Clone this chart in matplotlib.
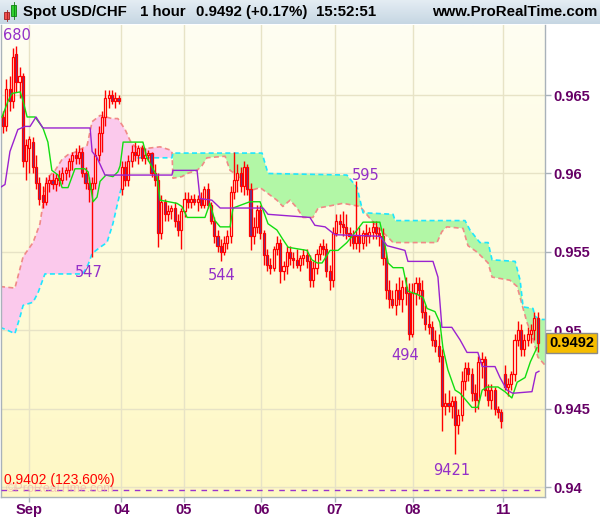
import numpy as np
import matplotlib
matplotlib.use("Agg")
import matplotlib.pyplot as plt
from matplotlib.colors import LinearSegmentedColormap
from matplotlib.patches import Rectangle
from matplotlib.transforms import blended_transform_factory

# hourly USD/CHF candles, prices in pips (9636 -> 0.9636)
opens = [9636, 9630, 9654, 9646, 9676, 9658, 9662, 9608, 9616, 9620, 9604, 9594,
         9586, 9582, 9594, 9596, 9593, 9597, 9596, 9600, 9602, 9608, 9612, 9610,
         9614, 9600, 9594, 9590, 9594, 9612, 9626, 9636, 9648, 9650, 9646, 9648,
         9590, 9604, 9596, 9608, 9614, 9612, 9616, 9610, 9612, 9613, 9600, 9596,
         9562, 9582, 9574, 9576, 9578, 9570, 9564, 9576, 9584, 9582, 9584, 9582,
         9584, 9580, 9590, 9580, 9570, 9560, 9554, 9550, 9556, 9560, 9588, 9596,
         9600, 9592, 9604, 9590, 9560, 9566, 9577, 9562, 9548, 9542, 9540, 9552,
         9556, 9538, 9541, 9550, 9546, 9545, 9542, 9546, 9548, 9544, 9532, 9540,
         9549, 9554, 9552, 9538, 9532, 9562, 9570, 9568, 9566, 9562, 9560, 9556,
         9560, 9556, 9562, 9560, 9563, 9566, 9562, 9560, 9546, 9526, 9520, 9516,
         9526, 9520, 9528, 9524, 9498, 9524, 9530, 9526, 9512, 9504, 9502, 9494,
         9490, 9484, 9452, 9454, 9452, 9455, 9440, 9446, 9468, 9476, 9472, 9460,
         9456, 9480, 9482, 9462, 9456, 9462, 9450, 9448, 9472, 9464, 9466, 9472,
         9494, 9500, 9488, 9494, 9498, 9500, 9508]
highs = [9640, 9660, 9662, 9680, 9681, 9668, 9664, 9622, 9624, 9623, 9612, 9598,
         9592, 9598, 9599, 9600, 9600, 9602, 9604, 9604, 9610, 9614, 9616, 9618,
         9616, 9604, 9598, 9598, 9616, 9630, 9640, 9653, 9653, 9653, 9652, 9650,
         9608, 9608, 9612, 9618, 9620, 9618, 9618, 9616, 9615, 9614, 9606, 9600,
         9586, 9584, 9580, 9580, 9582, 9574, 9578, 9588, 9588, 9586, 9587, 9586,
         9588, 9592, 9594, 9582, 9572, 9564, 9558, 9560, 9564, 9592, 9614, 9606,
         9604, 9608, 9606, 9594, 9572, 9580, 9580, 9564, 9552, 9546, 9554, 9560,
         9558, 9544, 9554, 9554, 9550, 9552, 9548, 9552, 9552, 9548, 9544, 9552,
         9556, 9558, 9556, 9542, 9566, 9574, 9574, 9576, 9574, 9566, 9564, 9595,
         9566, 9564, 9568, 9566, 9570, 9570, 9566, 9565, 9550, 9532, 9526, 9530,
         9534, 9532, 9534, 9530, 9530, 9534, 9534, 9532, 9516, 9510, 9506, 9500,
         9498, 9488, 9460, 9462, 9458, 9458, 9450, 9474, 9480, 9480, 9476, 9466,
         9484, 9486, 9484, 9466, 9466, 9464, 9452, 9450, 9478, 9470, 9474, 9498,
         9506, 9504, 9498, 9502, 9504, 9512, 9512]
lows = [9626, 9627, 9640, 9642, 9652, 9648, 9604, 9596, 9600, 9600, 9590, 9580,
        9578, 9580, 9588, 9590, 9589, 9592, 9593, 9596, 9598, 9602, 9606, 9606,
        9598, 9590, 9582, 9547, 9590, 9608, 9614, 9630, 9642, 9644, 9642, 9644,
        9586, 9592, 9592, 9604, 9608, 9606, 9608, 9606, 9608, 9598, 9592, 9553,
        9558, 9570, 9570, 9571, 9566, 9560, 9552, 9572, 9578, 9578, 9580, 9576,
        9578, 9578, 9578, 9568, 9556, 9550, 9544, 9548, 9552, 9556, 9584, 9588,
        9588, 9586, 9586, 9551, 9555, 9562, 9558, 9542, 9538, 9536, 9538, 9548,
        9530, 9532, 9536, 9542, 9540, 9540, 9538, 9542, 9540, 9528, 9528, 9536,
        9545, 9548, 9534, 9526, 9528, 9560, 9562, 9560, 9558, 9554, 9552, 9552,
        9550, 9552, 9554, 9556, 9558, 9558, 9554, 9542, 9520, 9514, 9514, 9510,
        9516, 9512, 9516, 9494, 9496, 9516, 9520, 9508, 9500, 9498, 9490, 9486,
        9480, 9436, 9446, 9448, 9444, 9421, 9434, 9442, 9462, 9468, 9455, 9448,
        9450, 9470, 9458, 9452, 9450, 9446, 9444, 9438, 9462, 9458, 9462, 9468,
        9490, 9484, 9484, 9490, 9492, 9494, 9486]
closes = [9630, 9654, 9646, 9674, 9658, 9662, 9608, 9618, 9622, 9604, 9594, 9584,
          9582, 9594, 9596, 9593, 9597, 9596, 9600, 9602, 9608, 9612, 9610, 9614,
          9600, 9594, 9590, 9594, 9612, 9626, 9636, 9648, 9650, 9646, 9648, 9646,
          9604, 9596, 9608, 9614, 9612, 9616, 9610, 9612, 9613, 9600, 9596, 9562,
          9582, 9574, 9576, 9578, 9570, 9564, 9576, 9584, 9582, 9584, 9582, 9584,
          9580, 9590, 9580, 9570, 9560, 9554, 9550, 9556, 9560, 9588, 9596, 9600,
          9592, 9604, 9590, 9560, 9566, 9577, 9562, 9548, 9542, 9540, 9552, 9556,
          9538, 9541, 9550, 9546, 9545, 9542, 9546, 9548, 9544, 9532, 9540, 9549,
          9554, 9552, 9538, 9532, 9562, 9570, 9568, 9566, 9562, 9560, 9556, 9560,
          9556, 9562, 9560, 9563, 9566, 9562, 9560, 9546, 9526, 9520, 9516, 9526,
          9520, 9528, 9524, 9498, 9524, 9530, 9526, 9512, 9504, 9502, 9494, 9490,
          9484, 9452, 9454, 9452, 9455, 9440, 9446, 9468, 9476, 9472, 9460, 9456,
          9480, 9482, 9462, 9456, 9462, 9450, 9448, 9442, 9464, 9466, 9472, 9494,
          9500, 9488, 9494, 9498, 9500, 9508, 9492]

# day boundaries (bar index) and labels
day_pos = [7.9, 35.8, 54.8, 78.2, 100.6, 124.2, 151.5]
day_labels = ['Sep', '04', '05', '06', '07', '08', '11']
price_ticks = [0.94, 0.945, 0.95, 0.955, 0.96, 0.965]

# ichimoku lines, vertices as (bar index, pips)
tenkan_x = [-0.3, 1.5, 2.7, 5.2, 6.1, 7.3, 9.7, 12.1, 13.6, 14.8, 16.7, 17.9, 19.7, 21.8,
            24.8, 25.8, 27.3, 28.5, 29.4, 31.2, 33.3, 34.8, 35.5, 36.4, 42.4, 43.6, 45.2,
            46.7, 47.6, 52.7, 54.2, 55.8, 61.2, 62.7, 64.2, 65.8, 68.8, 69.7, 74.8, 77.9,
            80.3, 83, 84.8, 86.4, 92.1, 93.6, 95.2, 96.7, 99.1, 101.5, 104.2, 107.3, 109.1,
            114.2, 115.8, 116.7, 118.2, 121.2, 122.7, 125.5, 127.3, 128.5, 130.9, 132.4,
            133.3, 134.8, 137, 138.5, 140.9, 142.1, 143.9, 145.2, 146.7, 150, 152.1, 154.2,
            155.8, 158.2, 159.8, 161.8]
tenkan_y = [9636, 9646, 9651, 9652, 9646, 9636, 9636, 9629, 9620, 9602, 9599, 9591, 9591, 9603,
            9603, 9601, 9582, 9585, 9595, 9599, 9598, 9601, 9605, 9620, 9620, 9610, 9604,
            9598, 9583, 9581, 9579, 9572, 9572, 9581, 9570, 9566, 9566, 9578, 9582, 9582,
            9568, 9564, 9558, 9553, 9551, 9545, 9543, 9543, 9551, 9551, 9556, 9564, 9569,
            9569, 9554, 9543, 9540, 9540, 9525, 9523, 9521, 9514, 9512, 9505,
            9489, 9475, 9462, 9460, 9454, 9451, 9451, 9462, 9464, 9464, 9461, 9457,
            9467, 9470, 9480, 9489]
kijun_x = [-0.9, 0.6, 2.1, 4.5, 6.7, 8.2, 10, 12.1, 26.4, 27, 28.5, 30.9, 51.2, 51.5, 58.8,
           59.7, 63.3, 65.8, 78.8, 80.3, 93, 94.5, 97.6, 100.6, 114.2, 116.4, 121.8, 122.7,
           130.3, 131.8, 133, 136, 138.5, 140.6, 143.9, 145.2, 149.1, 150.6, 152.7, 154.5,
           160.3, 161.5, 162.4]
kijun_y = [9591, 9593, 9614, 9628, 9630, 9630, 9636, 9629, 9629, 9614, 9610, 9599, 9599, 9602, 9602,
           9584, 9583, 9578, 9578, 9574, 9572, 9567, 9566, 9561, 9560, 9554, 9551, 9544,
           9544, 9534, 9502, 9502, 9494, 9486, 9486, 9477, 9477, 9470, 9462, 9460,
           9461, 9473, 9474]
span_a_x = [-0.9, 3.6, 6.1, 9.1, 11.2, 13.3, 15.8, 17.9, 19.7, 22.4, 25.5, 27, 29.4, 33, 34.8,
            37, 38.5, 40, 43.6, 47.6, 50.6, 51.2, 51.5, 54.2, 55.8, 58.8, 60.3, 61.8, 67.3,
            68.8, 70.9, 74.8, 77.9, 83, 84.8, 87, 89.1, 90.9, 93.9, 95.5, 98.2, 103, 108.2,
            113.3, 116.4, 118.2, 122.4, 131.5, 133, 134.5, 139.4, 140.9, 143.6, 147, 148.2,
            153.6, 155.8, 157.6, 158.8, 160.3, 162.1, 164.2]
span_a_y = [9528, 9527, 9547, 9556, 9568, 9597, 9602, 9609, 9612, 9614, 9618, 9633, 9637, 9635, 9635,
            9628, 9621, 9617, 9616, 9617, 9615, 9614, 9597, 9598, 9600, 9602, 9605, 9610, 9611,
            9602, 9599, 9589, 9591, 9583, 9579, 9583, 9578, 9572, 9572, 9578, 9579, 9581, 9579,
            9566, 9560, 9556, 9556, 9556, 9563, 9566, 9565, 9554, 9550, 9543, 9534,
            9532, 9528, 9514, 9505, 9497, 9483, 9478]
span_b_x = [-0.9, 1.5, 3.6, 5.2, 6.1, 9.1, 10.6, 12.7, 24.2, 25.8, 27, 29.4, 31.5, 33.3, 35.5,
            37.6, 39.1, 41.5, 51.2, 51.5, 78.5, 80.3, 104.2, 107.3, 109.1, 118.2, 118.8, 140,
            141.5, 144.5, 147, 148.2, 155.2, 156.7, 157.6, 160.6, 161.2, 162.7, 164.2]
span_b_y = [9502, 9500, 9498, 9509, 9516, 9518, 9524, 9536, 9536, 9542, 9549, 9553, 9556, 9568, 9588,
            9603, 9609, 9610, 9610, 9613, 9613, 9600, 9599, 9591, 9575, 9574, 9570, 9570,
            9564, 9556, 9556, 9545, 9544, 9532, 9515, 9514, 9509, 9507, 9507]
kumo_twist = 51.35

# labelled extremes: text, bar index, pips of label centre
extreme_labels = [('680', 4.2, 9688), ('547', 26.0, 9537), ('544', 66.4, 9535),
                  ('595', 110.0, 9599), ('494', 121.8, 9484), ('9421', 136.0, 9411)]

W, H = 600, 519
fig = plt.figure(figsize=(W / 100, H / 100), dpi=100)
fig.patch.set_facecolor('white')
ax = fig.add_axes([1 / W, 22 / H, 544 / W, 472 / H])

xlim = (-0.61, 164.24)
ylim = (0.93939, 0.96946)

# pale yellow background
bg = LinearSegmentedColormap.from_list('bg', ['#fff8c4', '#fefef2'])
ax.imshow(np.linspace(0, 1, 256).reshape(-1, 1)[::-1], cmap=bg, aspect='auto',
          extent=[xlim[0], xlim[1], ylim[0], ylim[1]], zorder=0)

for p in price_ticks:
    ax.axhline(p, color='#e7e3c6', lw=1, zorder=1)
for d in day_pos:
    ax.axvline(d, color='#e7e3c6', lw=1, zorder=1)

# cloud
ax_ = np.array(span_a_x)
ay_ = np.array(span_a_y) / 1e4
bx_ = np.array(span_b_x)
by_ = np.array(span_b_y) / 1e4
ma = ax_ < kumo_twist
mb = bx_ < kumo_twist
ax.fill(np.r_[ax_[ma], bx_[mb][::-1]], np.r_[ay_[ma], by_[mb][::-1]],
        color='#fbc9ec', lw=0, zorder=1.5)
ax.fill(np.r_[ax_[~ma], bx_[~mb][::-1]], np.r_[ay_[~ma], by_[~mb][::-1]],
        color='#b2f7a6', lw=0, zorder=1.5)
ax.plot(ax_, ay_, color='#f08a86', lw=1.2, dashes=(3, 2), zorder=2)
ax.plot(bx_, by_, color='#1ee6ff', lw=1.2, dashes=(3, 2), zorder=2)

# candles
o = np.array(opens) / 1e4
h = np.array(highs) / 1e4
l = np.array(lows) / 1e4
c = np.array(closes) / 1e4
x = np.arange(len(o))
up = c >= o
ax.vlines(x, l, h, color='#ff0000', lw=1, zorder=3)
lo = np.minimum(o, c)
hh = np.maximum(np.abs(c - o), 0.00003)
ax.bar(x[up], hh[up], bottom=lo[up], width=0.62, facecolor='#fffbe4',
       edgecolor='#ff0000', lw=0.9, zorder=4)
ax.bar(x[~up], hh[~up], bottom=lo[~up], width=0.62, facecolor='#5c3a98',
       edgecolor='#ff0000', lw=0.9, zorder=4)

ax.plot(tenkan_x, np.array(tenkan_y) / 1e4, color='#11dd11', lw=1, zorder=5)
ax.plot(kijun_x, np.array(kijun_y) / 1e4, color='#9a22d0', lw=1, zorder=5)

for txt, xi, yp in extreme_labels:
    ax.text(xi, yp / 1e4, txt, color='#9430c8', fontsize=10.5, family='DejaVu Sans',
            ha='center', va='center', zorder=6)

# retracement level
ax.axhline(0.93985, color='#9933cc', lw=1, dashes=(4, 4), zorder=5)
ax.text(0.4, 0.94048, '0.9402 (123.60%)', color='#ff0000', fontsize=10,
        family='Liberation Sans', ha='left', va='center', zorder=6)
ax.text(0.9, 0.93992, '\u00a9ProRealTime.com', color='#f3a5a5', fontsize=9,
        family='Liberation Sans', ha='left', va='center', alpha=0.6, zorder=5.5)

ax.set_xlim(xlim)
ax.set_ylim(ylim)
ax.spines['top'].set_visible(False)
for s in ['left', 'right', 'bottom']:
    ax.spines[s].set_color('#a9b2ba')
    ax.spines[s].set_linewidth(1)

ax.yaxis.tick_right()
ax.set_yticks(price_ticks)
ax.set_yticklabels([f'{p:g}' for p in price_ticks])
ax.set_xticks(day_pos)
ax.set_xticklabels(day_labels)
ax.tick_params(axis='y', length=4, width=1, color='#a9b2ba', pad=2,
               labelcolor='#660066', labelsize=10.5)
ax.tick_params(axis='x', length=3.5, width=1, color='#a9b2ba', pad=0.5,
               labelcolor='#660066', labelsize=10.5)
for lab in ax.get_xticklabels() + ax.get_yticklabels():
    lab.set_fontfamily('Liberation Sans')
    lab.set_fontweight('bold')

# last price box
tr = blended_transform_factory(ax.transAxes, ax.transData)
ax.text(1.008, c[-1], f'{c[-1]:.4f}', transform=tr, ha='left', va='center',
        fontsize=10.5, fontweight='bold', family='Liberation Sans', color='black',
        bbox=dict(boxstyle='square,pad=0.2', facecolor='#f6bd00', edgecolor='#8a8a8a', lw=1),
        zorder=7, clip_on=False)

# title bar
tb = fig.add_axes([0, 1 - 24 / H, 1, 24 / H])
tbg = LinearSegmentedColormap.from_list('tb', ['#c6d6e3', '#e4edf3'])
tb.imshow(np.linspace(0, 1, 64).reshape(-1, 1)[::-1], cmap=tbg, aspect='auto',
          extent=[0, W, 0, 24])
tb.set_xlim(0, W)
tb.set_ylim(0, 24)
tb.axis('off')
tb.add_patch(Rectangle((4, 5), 5, 7, facecolor='#f05050', edgecolor='#a02020', lw=0.6))
tb.add_patch(Rectangle((11, 8), 5, 11, facecolor='#30d030', edgecolor='#108010', lw=0.6))
tb.plot([6.5, 6.5], [3, 14], color='#a02020', lw=0.6)
tb.plot([13.5, 13.5], [5, 22], color='#108010', lw=0.6)
title_kw = dict(fontsize=10.8, fontweight='bold', family='Liberation Sans',
                color='black', va='center')
tb.text(23, 12, 'Spot USD/CHF', ha='left', **title_kw)
tb.text(140, 12, '1 hour', ha='left', **title_kw)
tb.text(196, 12, '0.9492 (+0.17%)', ha='left', **title_kw)
tb.text(316, 12, '15:52:51', ha='left', **title_kw)
tb.text(597, 12, 'www.ProRealTime.com', ha='right', **title_kw)

fig.savefig('out.png', dpi=100)
